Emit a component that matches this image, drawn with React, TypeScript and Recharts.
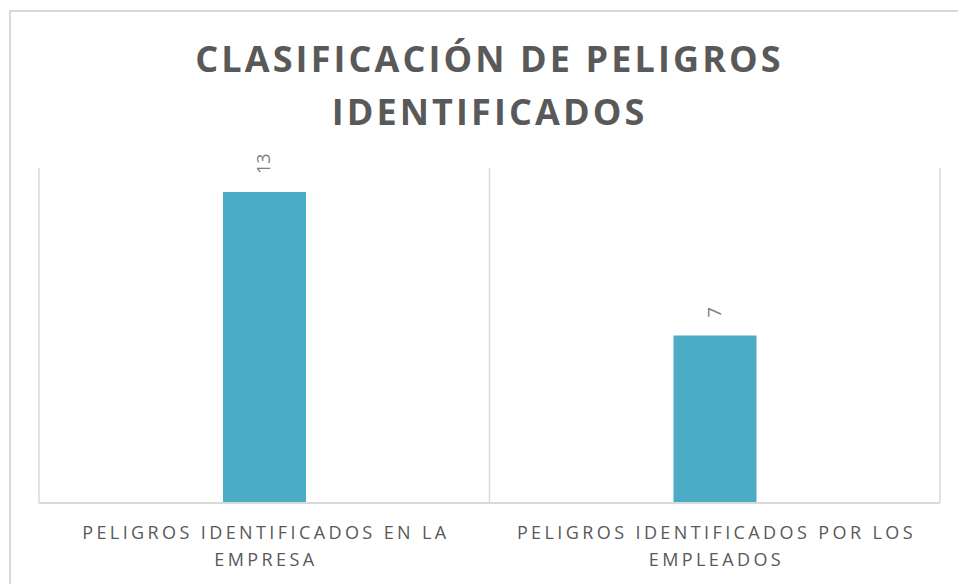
import { Bar, BarChart, CartesianGrid, LabelList, XAxis, YAxis } from 'recharts'

const CATEGORIES = ['PELIGROS IDENTIFICADOS EN LA EMPRESA', 'PELIGROS IDENTIFICADOS POR LOS EMPLEADOS']
const VALUES = [13, 7]
const Y_MAX = 14
const TITLE_LINES = ['CLASIFICACIÓN DE PELIGROS', 'IDENTIFICADOS']

const FONT = '"Open Sans", "DejaVu Sans", sans-serif'
const BAR_COLOR = '#4bacc6'
const GRID_COLOR = '#d9d9d9'

const rows = CATEGORIES.map((name, i) => ({ name, value: VALUES[i] }))

function wrap(text: string, maxChars: number) {
  const lines: string[] = []
  let cur = ''
  for (const word of text.split(' ')) {
    const next = cur ? `${cur} ${word}` : word
    if (next.length > maxChars && cur) {
      lines.push(cur)
      cur = word
    } else {
      cur = next
    }
  }
  if (cur) lines.push(cur)
  return lines
}

function CategoryTick(props: any) {
  const { x, y, payload } = props
  const lines = wrap(String(payload.value), 30)
  return (
    <text
      x={x}
      y={y}
      textAnchor="middle"
      fill="#595959"
      fontFamily={FONT}
      fontSize={18}
      letterSpacing={3.4}
    >
      {lines.map((line, i) => (
        <tspan key={i} x={x + 1.7} y={y + 28 + i * 27}>
          {line}
        </tspan>
      ))}
    </text>
  )
}

function ValueLabel(props: any) {
  const { x, y, width, value } = props
  const cx = x + width / 2 - 1
  const by = y - 18
  return (
    <text
      x={cx}
      y={by}
      transform={`rotate(-90, ${cx}, ${by})`}
      textAnchor="start"
      dominantBaseline="central"
      fill="#808080"
      fontFamily={FONT}
      fontSize={18}
    >
      {value}
    </text>
  )
}

export default function App() {
  return (
    <div style={{ position: 'fixed', left: 0, top: 0, width: 958, height: 584, background: '#fff', overflow: 'hidden' }}>
      <div
        style={{
          position: 'absolute',
          left: 9,
          top: 10,
          width: 980,
          height: 600,
          border: `2px solid ${GRID_COLOR}`,
          boxSizing: 'border-box',
        }}
      />
      <div
        style={{
          position: 'absolute',
          left: 39,
          top: 32,
          width: 901,
          textAlign: 'center',
          fontFamily: FONT,
          fontWeight: 700,
          fontSize: 36,
          lineHeight: '53px',
          letterSpacing: 3.1,
          color: '#595959',
        }}
      >
        {TITLE_LINES.map((line) => (
          <div key={line}>{line}</div>
        ))}
      </div>
      <div style={{ position: 'absolute', left: 0, top: 0 }}>
        <BarChart
          width={958}
          height={584}
          data={rows}
          margin={{ top: 168, right: 18, bottom: 51, left: 39 }}
        >
          <CartesianGrid
            horizontal={false}
            stroke={GRID_COLOR}
            strokeWidth={1.5}
            verticalCoordinatesGenerator={({ offset }: any) => [
              offset.left,
              offset.left + offset.width / 2,
              offset.left + offset.width,
            ]}
          />
          <XAxis
            dataKey="name"
            height={30}
            axisLine={{ stroke: GRID_COLOR, strokeWidth: 2 }}
            tickLine={false}
            interval={0}
            tick={<CategoryTick />}
          />
          <YAxis hide domain={[0, Y_MAX]} />
          <Bar dataKey="value" fill={BAR_COLOR} barSize={83} isAnimationActive={false}>
            <LabelList dataKey="value" content={<ValueLabel />} />
          </Bar>
        </BarChart>
      </div>
    </div>
  )
}
